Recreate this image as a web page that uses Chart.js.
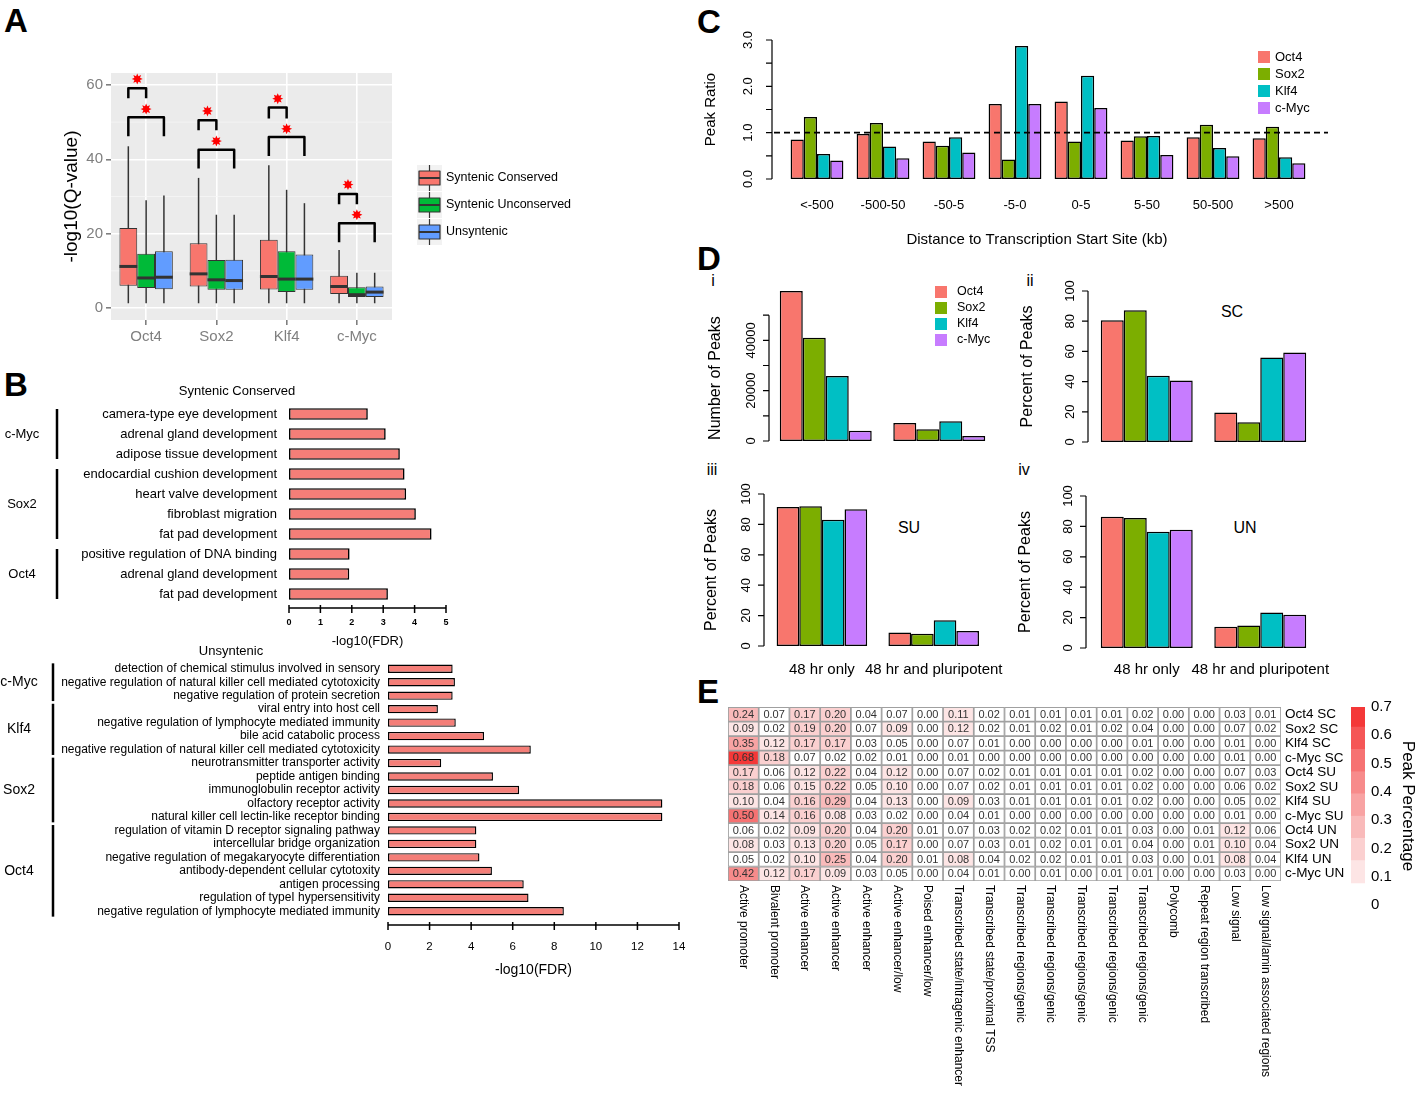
<!DOCTYPE html>
<html>
<head>
<meta charset="utf-8">
<title>TF binding figure</title>
<script src="https://cdn.jsdelivr.net/npm/chart.js@4.4.1/dist/chart.umd.min.js"></script>
<style>
  body { margin: 0; width: 1418px; height: 1107px; position: relative; overflow: hidden; background: #fff; font-family: "Liberation Sans", Arial, sans-serif; }
  canvas { position: absolute; }
  .letter { position: absolute; font: bold 33px "Liberation Sans", Arial, sans-serif; line-height: 1; }
  .tag { position: absolute; font-size: 16px; line-height: 1; transform: translate(-50%, -50%); }
</style>
</head>
<body>
<div class="letter" style="left:4px;top:4px">A</div>
<div class="letter" style="left:4px;top:368px">B</div>
<div class="letter" style="left:697px;top:5px">C</div>
<div class="letter" style="left:697px;top:242px">D</div>
<div class="letter" style="left:697px;top:675px">E</div>
<div class="tag" style="left:713px;top:281px">i</div>
<div class="tag" style="left:1030px;top:281px">ii</div>
<div class="tag" style="left:712px;top:470px">iii</div>
<div class="tag" style="left:1024px;top:470px">iv</div>
<div class="tag" style="left:1232px;top:312px">SC</div>
<div class="tag" style="left:909px;top:528px">SU</div>
<div class="tag" style="left:1245px;top:528px">UN</div>

<canvas id="cA" width="600" height="360" style="left:0;top:0"></canvas>
<canvas id="cB1" width="470" height="275" style="left:0;top:375px"></canvas>
<canvas id="cB2" width="700" height="340" style="left:0;top:645px"></canvas>
<canvas id="cC" width="728" height="250" style="left:690px;top:0"></canvas>
<canvas id="cD1" width="330" height="190" style="left:695px;top:270px"></canvas>
<canvas id="cD2" width="413" height="190" style="left:1005px;top:270px"></canvas>
<canvas id="cD3" width="330" height="225" style="left:695px;top:460px"></canvas>
<canvas id="cD4" width="413" height="225" style="left:1005px;top:460px"></canvas>
<canvas id="cE" width="660" height="412" style="left:690px;top:695px"></canvas>
<canvas id="cBar" width="78" height="230" style="left:1340px;top:690px"></canvas>

<script>
const FONT = '"Liberation Sans", Arial, sans-serif';

// ---- A: boxplots of -log10(Q-value)
const genesA = ['Oct4', 'Sox2', 'Klf4', 'c-Myc'];
const classesA = ['Syntenic Conserved', 'Syntenic Unconserved', 'Unsyntenic'];
const loSC = [1.3, 1.3, 1.3, 1.3], q1SC = [6.0, 5.8, 5.0, 3.8], medSC = [11.2, 9.2, 8.5, 5.8], q3SC = [21.5, 17.4, 18.4, 8.7], hiSC = [43.5, 35.0, 38.4, 15.6];
const loSU = [1.3, 1.3, 1.3, 1.3], q1SU = [5.4, 4.9, 4.3, 3.0], medSU = [8.1, 7.6, 7.8, 3.6], q3SU = [14.6, 12.9, 15.3, 5.6], hiSU = [29.0, 25.1, 31.8, 9.5];
const loUN = [1.3, 1.3, 1.3, 1.3], q1UN = [5.1, 4.9, 4.9, 3.0], medUN = [8.3, 7.4, 7.8, 4.3], q3UN = [15.3, 13.0, 14.4, 5.8], hiUN = [30.3, 25.1, 28.2, 9.5];
const ticksA = [0, 20, 40, 60];
const minorA = [10, 30, 50];
const bracket1Top = [59.1, 50.5, 53.9, 30.7], bracket1Leg = [56.4, 47.8, 51.0, 27.9], star1 = [61.6, 53.0, 56.3, 33.2];
const bracket2Top = [51.3, 42.6, 46.0, 22.8], bracket2Leg = [46.2, 37.5, 40.9, 17.7], star2 = [53.5, 44.9, 48.2, 25.1];

// ---- B: GO terms, -log10(FDR)
const termsSC = ['camera-type eye development', 'adrenal gland development', 'adipose tissue development',
  'endocardial cushion development', 'heart valve development', 'fibroblast migration', 'fat pad development',
  'positive regulation of DNA binding', 'adrenal gland development', 'fat pad development'];
const fdrSC = [2.51, 3.08, 3.53, 3.68, 3.73, 4.04, 4.54, 1.93, 1.92, 3.15];
const groupsSC = ['c-Myc', 'Sox2', 'Oct4'];
const groupSizeSC = [3, 4, 3];
const ticksSC = [0, 1, 2, 3, 4, 5];

const termsUN = ['detection of chemical stimulus involved in sensory', 'negative regulation of natural killer cell mediated cytotoxicity',
  'negative regulation of protein secretion', 'viral entry into host cell', 'negative regulation of lymphocyte mediated immunity',
  'bile acid catabolic process', 'negative regulation of natural killer cell mediated cytotoxicity', 'neurotransmitter transporter activity',
  'peptide antigen binding', 'immunoglobulin receptor activity', 'olfactory receptor activity', 'natural killer cell lectin-like receptor binding',
  'regulation of vitamin D receptor signaling pathway', 'intercellular bridge organization', 'negative regulation of megakaryocyte differentiation',
  'antibody-dependent cellular cytotoxity', 'antigen processing', 'regulation of typeI hypersensitivity', 'negative regulation of lymphocyte mediated immunity'];
const fdrUN = [3.11, 3.22, 3.11, 2.40, 3.26, 4.62, 6.87, 2.56, 5.05, 6.31, 13.2, 13.2, 4.25, 4.25, 4.40, 5.0, 6.53, 6.76, 8.46];
const groupsUN = ['c-Myc', 'Klf4', 'Sox2', 'Oct4'];
const groupSizeUN = [3, 4, 5, 7];
const ticksUN = [0, 2, 4, 6, 8, 10, 12, 14];

// ---- C: peak ratio by distance to TSS
const tfs = ['Oct4', 'Sox2', 'Klf4', 'c-Myc'];
const binsC = ['<-500', '-500-50', '-50-5', '-5-0', '0-5', '5-50', '50-500', '>500'];
const ratioOct4 = [0.85, 0.97, 0.81, 1.62, 1.67, 0.83, 0.90, 0.88];
const ratioSox2 = [1.34, 1.21, 0.72, 0.42, 0.81, 0.92, 1.17, 1.13];
const ratioKlf4 = [0.54, 0.70, 0.90, 2.87, 2.23, 0.93, 0.67, 0.47];
const ratioMyc = [0.40, 0.45, 0.57, 1.62, 1.53, 0.52, 0.49, 0.34];
const ticksC = [0, 0.5, 1, 1.5, 2, 2.5, 3];
const tickLabelsC = ['0.0', '', '1.0', '', '2.0', '', '3.0'];

// ---- D: peaks at 48 hr (order Oct4, Sox2, Klf4, c-Myc)
const timeD = ['48 hr only', '48 hr and pluripotent'];
const countD = [[59600, 7150], [41060, 4640], [25830, 7810], [4100, 1990]];
const pctSC = [[80.6, 19.6], [87.2, 13.0], [43.8, 55.9], [40.7, 59.2]];
const pctSU = [[91.4, 8.8], [91.9, 8.1], [83.1, 16.9], [89.9, 9.9]];
const pctUN = [[86.3, 13.9], [85.5, 14.8], [76.4, 23.3], [77.8, 21.8]];
const ticksCount = [0, 10000, 20000, 30000, 40000, 50000];
const tickLabelsCount = ['0', '', '20000', '', '40000', ''];
const ticksPct = [0, 20, 40, 60, 80, 100];

// ---- E: chromatin state heatmap
const statesE = ['Active promoter', 'Bivalent promoter', 'Active enhancer', 'Active enhancer', 'Active enhancer',
  'Active enhancer/low', 'Poised enhancer/low', 'Transcribed state/intragenic enhancer', 'Transcribed state/proximal TSS',
  'Transcribed regions/genic', 'Transcribed regions/genic', 'Transcribed regions/genic', 'Transcribed regions/genic',
  'Transcribed regions/genic', 'Polycomb', 'Repeat region transcribed', 'Low signal', 'Low signal/lamin associated regions'];
const rowsE = ['Oct4 SC', 'Sox2 SC', 'Klf4 SC', 'c-Myc SC', 'Oct4 SU', 'Sox2 SU', 'Klf4 SU', 'c-Myc SU', 'Oct4 UN', 'Sox2 UN', 'Klf4 UN', 'c-Myc UN'];
const heatE = [
  [0.24, 0.07, 0.17, 0.20, 0.04, 0.07, 0.00, 0.11, 0.02, 0.01, 0.01, 0.01, 0.01, 0.02, 0.00, 0.00, 0.03, 0.01],
  [0.09, 0.02, 0.19, 0.20, 0.07, 0.09, 0.00, 0.12, 0.02, 0.01, 0.02, 0.01, 0.02, 0.04, 0.00, 0.00, 0.07, 0.02],
  [0.35, 0.12, 0.17, 0.17, 0.03, 0.05, 0.00, 0.07, 0.01, 0.00, 0.00, 0.00, 0.00, 0.01, 0.00, 0.00, 0.01, 0.00],
  [0.68, 0.18, 0.07, 0.02, 0.02, 0.01, 0.00, 0.01, 0.00, 0.00, 0.00, 0.00, 0.00, 0.00, 0.00, 0.00, 0.01, 0.00],
  [0.17, 0.06, 0.12, 0.22, 0.04, 0.12, 0.00, 0.07, 0.02, 0.01, 0.01, 0.01, 0.01, 0.02, 0.00, 0.00, 0.07, 0.03],
  [0.18, 0.06, 0.15, 0.22, 0.05, 0.10, 0.00, 0.07, 0.02, 0.01, 0.01, 0.01, 0.01, 0.02, 0.00, 0.00, 0.06, 0.02],
  [0.10, 0.04, 0.16, 0.29, 0.04, 0.13, 0.00, 0.09, 0.03, 0.01, 0.01, 0.01, 0.01, 0.02, 0.00, 0.00, 0.05, 0.02],
  [0.50, 0.14, 0.16, 0.08, 0.03, 0.02, 0.00, 0.04, 0.01, 0.00, 0.00, 0.00, 0.00, 0.00, 0.00, 0.00, 0.01, 0.00],
  [0.06, 0.02, 0.09, 0.20, 0.04, 0.20, 0.01, 0.07, 0.03, 0.02, 0.02, 0.01, 0.01, 0.03, 0.00, 0.01, 0.12, 0.06],
  [0.08, 0.03, 0.13, 0.20, 0.05, 0.17, 0.00, 0.07, 0.03, 0.01, 0.02, 0.01, 0.01, 0.04, 0.00, 0.01, 0.10, 0.04],
  [0.05, 0.02, 0.10, 0.25, 0.04, 0.20, 0.01, 0.08, 0.04, 0.02, 0.02, 0.01, 0.01, 0.03, 0.00, 0.01, 0.08, 0.04],
  [0.42, 0.12, 0.17, 0.09, 0.03, 0.05, 0.00, 0.04, 0.01, 0.00, 0.01, 0.00, 0.01, 0.01, 0.00, 0.00, 0.03, 0.00]
];
const colorBreaks = [0.078, 0.157, 0.236, 0.314, 0.393, 0.471, 0.55, 0.629, 0.7];
const ticksBar = [0, 0.1, 0.2, 0.3, 0.4, 0.5, 0.6, 0.7];

const colorsA = ['#F8766D', '#00BA38', '#619CFF'];
const tfColors = ['#F8766D', '#7CAE00', '#00BFC4', '#C77CFF'];
const bandColors = ['#FDE5E5', '#FBD0D0', '#F9BABA', '#F8A3A3', '#F78B8B', '#F67272', '#F55656', '#F43838'];

Chart.defaults.font.family = FONT;
Chart.defaults.color = '#000';
Chart.defaults.animation = false;
Chart.defaults.responsive = false;
Chart.defaults.plugins.legend.display = false;
Chart.defaults.plugins.tooltip.enabled = false;

function cellColor(v) {
  if (v < colorBreaks[0]) return '#FFFFFF';
  let k = 0;
  while (k < bandColors.length - 1 && v >= colorBreaks[k + 1]) k++;
  return bandColors[k];
}

function star(ctx, x, y, r) {
  ctx.beginPath();
  for (let k = 0; k < 16; k++) {
    const ang = k * Math.PI / 8 - Math.PI / 2;
    const rr = k % 2 ? r * 0.55 : r;
    ctx.lineTo(x + rr * Math.cos(ang), y + rr * Math.sin(ang));
  }
  ctx.closePath();
  ctx.fill();
}

// R style y axis: line, outward ticks, rotated labels, rotated title
function rAxisY(o) {
  return {
    id: 'rAxisY',
    afterDraw(chart) {
      const ctx = chart.ctx, a = chart.chartArea, s = chart.scales.y;
      const x = a.left - o.gap;
      const y0 = s.getPixelForValue(o.ticks[0]), y1 = s.getPixelForValue(o.ticks[o.ticks.length - 1]);
      ctx.save();
      ctx.strokeStyle = '#000';
      ctx.lineWidth = 1.2;
      ctx.beginPath();
      ctx.moveTo(x, y0);
      ctx.lineTo(x, y1);
      o.ticks.forEach(v => {
        const y = s.getPixelForValue(v);
        ctx.moveTo(x, y);
        ctx.lineTo(x - 6, y);
      });
      ctx.stroke();
      ctx.fillStyle = '#000';
      ctx.textAlign = 'center';
      ctx.textBaseline = 'alphabetic';
      ctx.font = o.tickFont;
      o.ticks.forEach((v, i) => {
        if (!o.labels[i]) return;
        ctx.save();
        ctx.translate(x - o.labelGap, s.getPixelForValue(v));
        ctx.rotate(-Math.PI / 2);
        ctx.fillText(o.labels[i], 0, 0);
        ctx.restore();
      });
      ctx.font = o.titleFont;
      ctx.textBaseline = 'middle';
      ctx.translate(x - o.titleGap, (y0 + y1) / 2);
      ctx.rotate(-Math.PI / 2);
      ctx.fillText(o.title, 0, 0);
      ctx.restore();
    }
  };
}

// R style x axis under horizontal bars
function rAxisX(o) {
  return {
    id: 'rAxisX',
    afterDraw(chart) {
      const ctx = chart.ctx, a = chart.chartArea, s = chart.scales.x;
      const y = a.bottom + o.gap;
      const x0 = s.getPixelForValue(o.ticks[0]), x1 = s.getPixelForValue(o.ticks[o.ticks.length - 1]);
      ctx.save();
      ctx.strokeStyle = '#000';
      ctx.lineWidth = 1.5;
      ctx.beginPath();
      ctx.moveTo(x0, y);
      ctx.lineTo(x1, y);
      o.ticks.forEach(v => {
        const x = s.getPixelForValue(v);
        ctx.moveTo(x, y - 3);
        ctx.lineTo(x, y + 5);
      });
      ctx.stroke();
      ctx.fillStyle = '#000';
      ctx.textAlign = 'center';
      ctx.textBaseline = 'middle';
      ctx.font = o.tickFont;
      o.ticks.forEach(v => ctx.fillText(String(v), s.getPixelForValue(v), y + o.labelGap));
      ctx.font = o.titleFont;
      ctx.fillText(o.title, (x0 + x1) / 2, y + o.titleGap);
      ctx.restore();
    }
  };
}

// gene group brackets + panel title for B
function groupLines(o) {
  return {
    id: 'groupLines',
    afterDraw(chart) {
      const ctx = chart.ctx, s = chart.scales.y;
      const step = s.getPixelForValue(1) - s.getPixelForValue(0);
      let start = 0;
      ctx.save();
      ctx.strokeStyle = '#000';
      ctx.fillStyle = '#000';
      ctx.lineWidth = 2.5;
      ctx.font = o.font;
      ctx.textAlign = 'center';
      ctx.textBaseline = 'middle';
      o.names.forEach((n, g) => {
        const end = start + o.sizes[g] - 1;
        const y0 = s.getPixelForValue(start) - step * o.ext;
        const y1 = s.getPixelForValue(end) + step * o.ext;
        ctx.beginPath();
        ctx.moveTo(o.lineX, y0);
        ctx.lineTo(o.lineX, y1);
        ctx.stroke();
        ctx.fillText(n, o.labelX, (y0 + y1) / 2);
        start = end + 1;
      });
      ctx.font = o.titleFont;
      ctx.fillText(o.title, o.titleX, o.titleY);
      ctx.restore();
    }
  };
}

function squareLegend(o) {
  return {
    id: 'squareLegend',
    afterDraw(chart) {
      const ctx = chart.ctx;
      ctx.save();
      ctx.font = o.font;
      ctx.textBaseline = 'middle';
      chart.data.datasets.forEach((ds, i) => {
        const y = o.y + i * o.step;
        ctx.fillStyle = ds.backgroundColor;
        ctx.fillRect(o.x, y - 6, 12, 12);
        ctx.fillStyle = '#000';
        ctx.fillText(ds.label, o.x + o.textGap, y);
      });
      ctx.restore();
    }
  };
}

// ---------- A
const boxA = {
  id: 'boxA',
  beforeDraw(chart) {
    const ctx = chart.ctx, a = chart.chartArea;
    ctx.save();
    ctx.fillStyle = '#EBEBEB';
    ctx.fillRect(a.left, a.top, a.width, a.height);
    ctx.restore();
  },
  beforeDatasetsDraw(chart) {
    const ctx = chart.ctx, a = chart.chartArea, y = chart.scales.y;
    ctx.save();
    ctx.strokeStyle = '#F6F6F6';
    ctx.lineWidth = 0.8;
    minorA.forEach(v => {
      const p = y.getPixelForValue(v);
      ctx.beginPath();
      ctx.moveTo(a.left, p);
      ctx.lineTo(a.right, p);
      ctx.stroke();
    });
    ctx.strokeStyle = '#333';
    ctx.lineWidth = 1.5;
    chart.data.datasets.forEach((ds, di) => {
      chart.getDatasetMeta(di).data.forEach((el, i) => {
        ctx.beginPath();
        ctx.moveTo(el.x, y.getPixelForValue(ds.lo[i]));
        ctx.lineTo(el.x, y.getPixelForValue(ds.hi[i]));
        ctx.stroke();
      });
    });
    ctx.restore();
  },
  afterDatasetsDraw(chart) {
    const ctx = chart.ctx, y = chart.scales.y;
    ctx.save();
    ctx.strokeStyle = '#333';
    ctx.lineWidth = 3;
    chart.data.datasets.forEach((ds, di) => {
      chart.getDatasetMeta(di).data.forEach((el, i) => {
        const p = y.getPixelForValue(ds.med[i]);
        ctx.beginPath();
        ctx.moveTo(el.x - el.width / 2, p);
        ctx.lineTo(el.x + el.width / 2, p);
        ctx.stroke();
      });
    });
    // significance brackets
    const m0 = chart.getDatasetMeta(0).data, m1 = chart.getDatasetMeta(1).data, m2 = chart.getDatasetMeta(2).data;
    ctx.strokeStyle = '#000';
    ctx.lineWidth = 2.5;
    ctx.lineJoin = 'round';
    ctx.fillStyle = '#FF0000';
    genesA.forEach((g, i) => {
      const xa = m0[i].x, xb = m1[i].x, xc = m2[i].x;
      ctx.beginPath();
      ctx.moveTo(xa, y.getPixelForValue(bracket1Leg[i]));
      ctx.lineTo(xa, y.getPixelForValue(bracket1Top[i]));
      ctx.lineTo(xb, y.getPixelForValue(bracket1Top[i]));
      ctx.lineTo(xb, y.getPixelForValue(bracket1Leg[i]));
      ctx.stroke();
      ctx.beginPath();
      ctx.moveTo(xa, y.getPixelForValue(bracket2Leg[i]));
      ctx.lineTo(xa, y.getPixelForValue(bracket2Top[i]));
      ctx.lineTo(xc, y.getPixelForValue(bracket2Top[i]));
      ctx.lineTo(xc, y.getPixelForValue(bracket2Leg[i]));
      ctx.stroke();
      star(ctx, (xa + xb) / 2, y.getPixelForValue(star1[i]), 5.5);
      star(ctx, (xa + xc) / 2, y.getPixelForValue(star2[i]), 5.5);
    });
    // legend
    ctx.font = '12.5px ' + FONT;
    ctx.textBaseline = 'middle';
    chart.data.datasets.forEach((ds, i) => {
      const cy = 178 + i * 27;
      ctx.fillStyle = '#F2F2F2';
      ctx.fillRect(417, cy - 13, 25, 26);
      ctx.strokeStyle = '#333';
      ctx.lineWidth = 1.2;
      ctx.beginPath();
      ctx.moveTo(429.5, cy - 13);
      ctx.lineTo(429.5, cy + 13);
      ctx.stroke();
      ctx.fillStyle = ds.backgroundColor;
      ctx.fillRect(419, cy - 7, 21, 14);
      ctx.strokeRect(419, cy - 7, 21, 14);
      ctx.lineWidth = 2;
      ctx.beginPath();
      ctx.moveTo(419, cy);
      ctx.lineTo(440, cy);
      ctx.stroke();
      ctx.fillStyle = '#000';
      ctx.fillText(ds.label, 446, cy);
    });
    ctx.restore();
  }
};

new Chart(document.getElementById('cA'), {
  type: 'bar',
  data: {
    labels: genesA,
    datasets: [
      { label: classesA[0], data: q1SC.map((v, i) => [v, q3SC[i]]), lo: loSC, hi: hiSC, med: medSC, backgroundColor: colorsA[0] },
      { label: classesA[1], data: q1SU.map((v, i) => [v, q3SU[i]]), lo: loSU, hi: hiSU, med: medSU, backgroundColor: colorsA[1] },
      { label: classesA[2], data: q1UN.map((v, i) => [v, q3UN[i]]), lo: loUN, hi: hiUN, med: medUN, backgroundColor: colorsA[2] }
    ]
  },
  options: {
    layout: { padding: { top: 73, right: 208, bottom: 0, left: 0 } },
    datasets: { bar: { categoryPercentage: 0.76, barPercentage: 1, borderColor: '#333', borderWidth: 1, borderSkipped: false } },
    scales: {
      x: {
        grid: { color: '#FFFFFF', lineWidth: 1.6, offset: false, tickColor: '#7F7F7F', tickLength: 5 },
        border: { display: false },
        ticks: { color: '#7F7F7F', font: { size: 15 }, padding: 3 },
        afterFit(s) { s.height = 40; }
      },
      y: {
        min: -3.2, max: 63.2,
        afterBuildTicks(s) { s.ticks = ticksA.map(v => ({ value: v })); },
        grid: { color: '#FFFFFF', lineWidth: 1.6, tickColor: '#7F7F7F', tickLength: 5 },
        border: { display: false },
        ticks: { color: '#7F7F7F', font: { size: 15 }, padding: 3 },
        title: { display: true, text: '-log10(Q-value)', font: { size: 19 }, color: '#000', padding: { top: 60, bottom: 0 } },
        afterFit(s) { s.width = 111; }
      }
    }
  },
  plugins: [boxA]
});

// ---------- B
new Chart(document.getElementById('cB1'), {
  type: 'bar',
  data: { labels: termsSC, datasets: [{ data: fdrSC, backgroundColor: '#F47E78', borderColor: '#000', borderWidth: 1.6, borderSkipped: false }] },
  options: {
    indexAxis: 'y',
    layout: { padding: { top: 29, right: 24, bottom: 46, left: 0 } },
    datasets: { bar: { categoryPercentage: 1, barPercentage: 0.58 } },
    scales: {
      x: { display: false, min: 0, max: 5 },
      y: {
        grid: { display: false, drawTicks: false }, border: { display: false },
        ticks: { font: { size: 13 }, color: '#000', padding: 12, autoSkip: false },
        afterFit(s) { s.width = 289; }
      }
    }
  },
  plugins: [
    rAxisX({ ticks: ticksSC, gap: 4, labelGap: 15, titleGap: 33, tickFont: 'bold 9px ' + FONT, titleFont: '13px ' + FONT, title: '-log10(FDR)' }),
    groupLines({ names: groupsSC, sizes: groupSizeSC, ext: 0.25, lineX: 57, labelX: 22, font: '13px ' + FONT, title: 'Syntenic Conserved', titleX: 237, titleY: 16, titleFont: '13px ' + FONT })
  ]
});

new Chart(document.getElementById('cB2'), {
  type: 'bar',
  data: { labels: termsUN, datasets: [{ data: fdrUN, backgroundColor: '#F47E78', borderColor: '#000', borderWidth: 1.4, borderSkipped: false }] },
  options: {
    indexAxis: 'y',
    layout: { padding: { top: 17, right: 21, bottom: 67, left: 0 } },
    datasets: { bar: { categoryPercentage: 1, barPercentage: 0.62 } },
    scales: {
      x: { display: false, min: 0, max: 14 },
      y: {
        grid: { display: false, drawTicks: false }, border: { display: false },
        ticks: { font: { size: 12 }, color: '#000', padding: 8, autoSkip: false },
        afterFit(s) { s.width = 388; }
      }
    }
  },
  plugins: [
    rAxisX({ ticks: ticksUN, gap: 7, labelGap: 22, titleGap: 45, tickFont: '11.5px ' + FONT, titleFont: '14px ' + FONT, title: '-log10(FDR)' }),
    groupLines({ names: groupsUN, sizes: groupSizeUN, ext: 0.4, lineX: 53, labelX: 19, font: '14px ' + FONT, title: 'Unsyntenic', titleX: 231, titleY: 6, titleFont: '13px ' + FONT })
  ]
});

// ---------- C
const extrasC = {
  id: 'extrasC',
  afterDraw(chart) {
    const ctx = chart.ctx, a = chart.chartArea, y = chart.scales.y.getPixelForValue(1);
    ctx.save();
    ctx.strokeStyle = '#000';
    ctx.lineWidth = 1.6;
    ctx.setLineDash([6, 4]);
    ctx.beginPath();
    ctx.moveTo(a.left - 10, y);
    ctx.lineTo(a.right + 16, y);
    ctx.stroke();
    ctx.setLineDash([]);
    ctx.fillStyle = '#000';
    ctx.font = '15px ' + FONT;
    ctx.textAlign = 'center';
    ctx.textBaseline = 'middle';
    ctx.fillText('Distance to Transcription Start Site (kb)', 347, 240);
    ctx.restore();
  }
};

new Chart(document.getElementById('cC'), {
  type: 'bar',
  data: {
    labels: binsC,
    datasets: [ratioOct4, ratioSox2, ratioKlf4, ratioMyc].map((d, k) => ({ label: tfs[k], data: d, backgroundColor: tfColors[k] }))
  },
  options: {
    layout: { padding: { top: 40, right: 106, bottom: 0, left: 94 } },
    datasets: { bar: { categoryPercentage: 0.8, barPercentage: 1, borderColor: '#000', borderWidth: 1.5, borderSkipped: false } },
    scales: {
      x: {
        grid: { display: false, drawTicks: false }, border: { display: false },
        ticks: { font: { size: 13 }, color: '#000', padding: 19, maxRotation: 0, minRotation: 0 },
        afterFit(s) { s.height = 71; }
      },
      y: { display: false, min: 0, max: 3 }
    }
  },
  plugins: [
    rAxisY({ ticks: ticksC, labels: tickLabelsC, gap: 12, labelGap: 20, titleGap: 61, tickFont: '13px ' + FONT, titleFont: '15px ' + FONT, title: 'Peak Ratio' }),
    squareLegend({ x: 568, y: 57, step: 17, textGap: 17, font: '13px ' + FONT }),
    extrasC
  ]
});

// ---------- D
function dChart(id, series, o) {
  return new Chart(document.getElementById(id), {
    type: 'bar',
    data: { labels: timeD, datasets: series.map((d, k) => ({ label: tfs[k], data: d, backgroundColor: tfColors[k] })) },
    options: {
      layout: { padding: o.pad },
      datasets: { bar: { categoryPercentage: 0.81, barPercentage: 1, borderColor: '#000', borderWidth: 1.5, borderSkipped: false } },
      scales: {
        x: o.showX ? {
          grid: { display: false, drawTicks: false }, border: { display: false },
          ticks: { font: { size: 15 }, color: '#000', padding: o.labelPad, maxRotation: 0, minRotation: 0, autoSkip: false },
          afterFit(s) { s.height = o.xHeight; }
        } : { display: false },
        y: { display: false, min: 0, max: o.max }
      }
    },
    plugins: [rAxisY(o.axis)].concat(o.extra || [])
  });
}

const pctAxis = (gap, titleGap) => ({ ticks: ticksPct, labels: ticksPct.map(String), gap: gap, labelGap: 14, titleGap: titleGap, tickFont: '13px ' + FONT, titleFont: '16px ' + FONT, title: 'Percent of Peaks' });

dChart('cD1', countD, {
  pad: { top: 20, right: 29, bottom: 19, left: 74 }, max: 60000, showX: false,
  axis: { ticks: ticksCount, labels: tickLabelsCount, gap: 0, labelGap: 14, titleGap: 53, tickFont: '13px ' + FONT, titleFont: '16px ' + FONT, title: 'Number of Peaks' },
  extra: [squareLegend({ x: 240, y: 22, step: 16, textGap: 22, font: '12.5px ' + FONT })]
});
dChart('cD2', pctSC, { pad: { top: 21, right: 101, bottom: 18, left: 85 }, max: 100, showX: false, axis: pctAxis(2, 60) });
dChart('cD3', pctSU, { pad: { top: 34, right: 30, bottom: 0, left: 71 }, max: 100, showX: true, xHeight: 39, labelPad: 15, axis: pctAxis(2, 52) });
dChart('cD4', pctUN, { pad: { top: 36, right: 101, bottom: 0, left: 85 }, max: 100, showX: true, xHeight: 37, labelPad: 13, axis: pctAxis(4, 60) });

// ---------- E
const heatText = {
  id: 'heatText',
  afterDatasetsDraw(chart) {
    const ctx = chart.ctx;
    ctx.save();
    ctx.font = '11px ' + FONT;
    ctx.fillStyle = '#333';
    ctx.textAlign = 'center';
    ctx.textBaseline = 'middle';
    chart.data.datasets.forEach((ds, di) => {
      chart.getDatasetMeta(di).data.forEach((el, ci) => {
        const p = el.getCenterPoint();
        ctx.fillText(ds.values[ci].toFixed(2), p.x, p.y + 0.5);
      });
    });
    const s = chart.scales.x;
    ctx.font = '12px ' + FONT;
    ctx.fillStyle = '#000';
    ctx.textAlign = 'left';
    statesE.forEach((t, i) => {
      ctx.save();
      ctx.translate(s.getPixelForValue(i), chart.chartArea.bottom + 4);
      ctx.rotate(Math.PI / 2);
      ctx.fillText(t, 0, 0);
      ctx.restore();
    });
    ctx.restore();
  }
};

new Chart(document.getElementById('cE'), {
  type: 'bar',
  data: {
    labels: statesE,
    datasets: rowsE.map((r, k) => {
      const ri = rowsE.length - 1 - k;
      return { label: rowsE[ri], data: statesE.map(() => 1), values: heatE[ri], backgroundColor: heatE[ri].map(cellColor) };
    })
  },
  options: {
    layout: { padding: { top: 10, right: 0, bottom: 226, left: 38 } },
    datasets: { bar: { categoryPercentage: 1, barPercentage: 1, borderColor: '#A0A0A0', borderWidth: 1.2, borderSkipped: false } },
    scales: {
      x: { display: false, stacked: true },
      y: { display: false, stacked: true, min: 0, max: rowsE.length },
      y2: {
        type: 'category', labels: rowsE, position: 'right', offset: true,
        grid: { display: false, drawTicks: false }, border: { display: false },
        ticks: { font: { size: 13.5 }, color: '#000', padding: 4, autoSkip: false },
        afterFit(s) { s.width = 69; }
      }
    }
  },
  plugins: [heatText]
});

new Chart(document.getElementById('cBar'), {
  type: 'bar',
  data: {
    labels: [''],
    datasets: bandColors.map((c, k) => ({ data: [[colorBreaks[k], colorBreaks[k + 1]]], backgroundColor: c, grouped: false }))
  },
  options: {
    layout: { padding: { top: 17, right: 0, bottom: 15, left: 11 } },
    datasets: { bar: { categoryPercentage: 1, barPercentage: 1, borderWidth: 0 } },
    scales: {
      x: { display: false },
      y: {
        min: 0, max: 0.7, position: 'right',
        afterBuildTicks(s) { s.ticks = ticksBar.map(v => ({ value: v })); },
        grid: { display: false, drawTicks: false }, border: { display: false },
        ticks: { font: { size: 15 }, color: '#000', padding: 6 },
        title: { display: true, text: 'Peak Percentage', font: { size: 17 }, color: '#000', padding: 0 },
        afterFit(s) { s.width = 53; }
      }
    }
  }
});
</script>
</body>
</html>
